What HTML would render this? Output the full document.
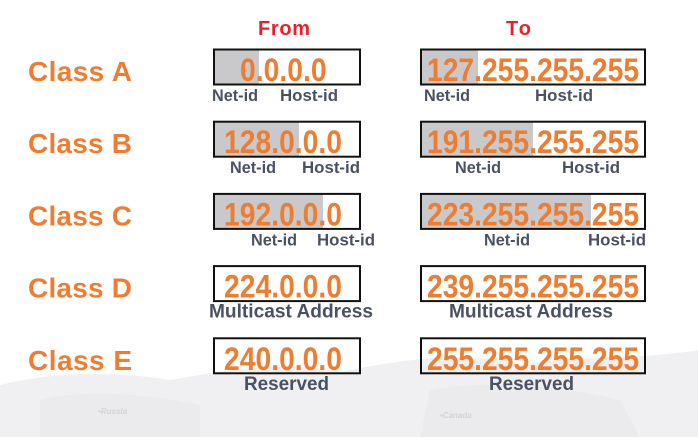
<!DOCTYPE html>
<html><head><meta charset="utf-8"><style>
html,body{margin:0;padding:0;background:#fff;}
svg{display:block;}
text{font-family:"Liberation Sans",Arial,sans-serif;font-weight:bold;}
</style></head><body>
<svg width="698" height="437" viewBox="0 0 698 437">
<g fill="#f0f0f2">
<path d="M0 385 C60 370 120 372 170 380 C230 370 280 360 340 372 C400 360 460 350 520 365 C580 355 640 360 698 350 L698 437 L0 437 Z"/>
<path d="M40 400 C80 390 140 392 200 405 L200 437 L40 437 Z" fill="#ebebed"/>
<path d="M430 390 C480 380 560 385 620 400 L640 437 L420 437 Z" fill="#ebebed"/>
<text x="98" y="414" font-size="8" fill="#d3d3d7" font-weight="normal" font-style="italic">•Russia</text>
<text x="440" y="418" font-size="8" fill="#d3d3d7" font-weight="normal" font-style="italic">•Canada</text>
</g>
<text x="258" y="35" font-size="20" fill="#e8202a" textLength="52">From</text>
<text x="506" y="35" font-size="20" fill="#e8202a" textLength="25">To</text>
<g id="rows"></g>
</svg>
<script>
const classNames = ["Class A","Class B","Class C","Class D","Class E"];
const fromAddr = ["0.0.0.0","128.0.0.0","192.0.0.0","224.0.0.0","240.0.0.0"];
const toAddr = ["127.255.255.255","191.255.255.255","223.255.255.255","239.255.255.255","255.255.255.255"];
const fromShade = [46,86,110,0,0];
const toShade = [58,113,171,0,0];
const fromLabels = [[["Net-id",212],["Host-id",280]],[["Net-id",230],["Host-id",302]],[["Net-id",251],["Host-id",317]],[["Multicast Address",209]],[["Reserved",244]]];
const toLabels = [[["Net-id",424],["Host-id",535]],[["Net-id",455],["Host-id",562]],[["Net-id",484],["Host-id",588]],[["Multicast Address",449]],[["Reserved",489]]];
const labelW = {"Net-id":46,"Host-id":58,"Multicast Address":164,"Reserved":85};
const NS="http://www.w3.org/2000/svg";
const g=document.getElementById('rows');
function mk(tag,attrs,parent){const e=document.createElementNS(NS,tag);for(const k in attrs)e.setAttribute(k,attrs[k]);parent.appendChild(e);return e;}
function charW(s,fs){let w=0;for(const c of s)w+=(c==='.'?0.28:0.55)*fs;return w;}
classNames.forEach((name,i)=>{
  const y=49+i*72.2;
  const row=mk('g',{},g);
  
  
  const t=mk('text',{x:28,y:y+32,'font-size':28,fill:'#ed7d31',textLength:104},row);
  t.textContent=name;
  
  
  [[213,148,fromShade[i],fromAddr[i],fromLabels[i],'from'],[420,226,toShade[i],toAddr[i],toLabels[i],'to']].forEach(([x,w,sh,addr,labs,kind])=>{
    if(sh>0){const r=mk('rect',{x:x,y:y,width:sh,height:36,fill:'#c9c9cc'},row);
      
      }
    const b=mk('rect',{x:x+1,y:y+0.5,width:w-2,height:35,fill:'none',stroke:'#111',"stroke-width":2},row);
    
    
    const tw=charW(addr,28.5);
    const tx=kind==='to'?x+7:(i===0?x+27:x+11);
    const a=mk('text',{x:tx,y:y+32,'font-size':32,fill:'#ed7d31',textLength:tw,lengthAdjust:'spacingAndGlyphs'},row);
    a.textContent=addr;
    
    
    labs.forEach(([s,lx])=>{
      const fs = s.length>7 ? 19 : 17;
      const l=mk('text',{x:lx,y:y+52,'font-size':fs,fill:'#4a5163',textLength:labelW[s],lengthAdjust:'spacingAndGlyphs'},row);
      l.textContent=s;
      
      
    });
  });
});
</script>
</body></html>
